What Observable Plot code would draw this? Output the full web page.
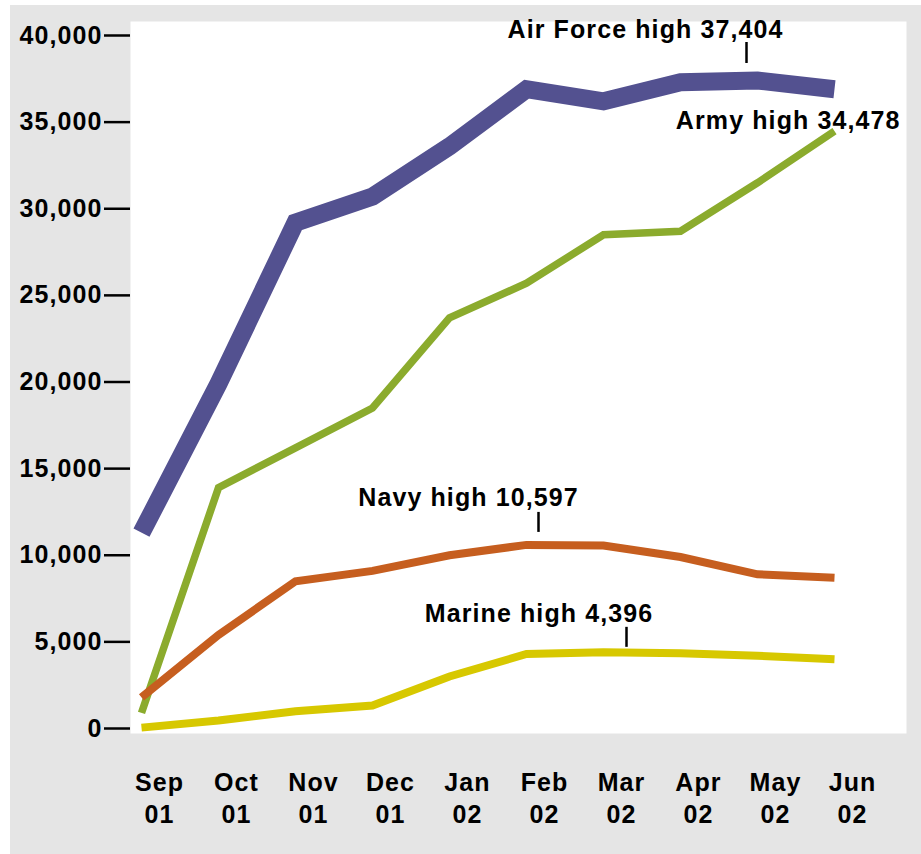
<!DOCTYPE html>
<html>
<head>
<meta charset="utf-8">
<script src="https://cdn.jsdelivr.net/npm/d3@7"></script>
<script src="https://cdn.jsdelivr.net/npm/@observablehq/plot@0.6"></script>
<style>
  html, body { margin: 0; padding: 0; background: #ffffff; }
  #chart { position: absolute; left: 10px; top: 5px; }
  #chart svg text { font-family: "Liberation Sans", Arial, Helvetica, sans-serif; font-weight: bold; letter-spacing: 1.1px; }
</style>
</head>
<body>
<div id="chart"></div>
<script>
// ---- data ----
const months = ["Sep 01","Oct 01","Nov 01","Dec 01","Jan 02","Feb 02","Mar 02","Apr 02","May 02","Jun 02"];
const monthLabels = ["Sep\n01","Oct\n01","Nov\n01","Dec\n01","Jan\n02","Feb\n02","Mar\n02","Apr\n02","May\n02","Jun\n02"];
const services = ["Air Force","Army","Navy","Marine"];
const airForce = [11300, 19900, 29200, 30700, 33600, 36900, 36200, 37300, 37404, 36900];
const army     = [900, 13900, 16200, 18500, 23700, 25700, 28500, 28700, 31500, 34478];
const navy     = [1800, 5400, 8500, 9100, 10000, 10597, 10560, 9900, 8900, 8700];
const marine   = [50, 460, 1000, 1330, 3000, 4300, 4396, 4350, 4200, 4000];
const yTicks = [0, 5000, 10000, 15000, 20000, 25000, 30000, 35000, 40000];
const highs = [
  {service: "Air Force", month: "May 02", value: 37404, text: "Air Force high 37,404"},
  {service: "Army",      month: "Jun 02", value: 34478, text: "Army high 34,478"},
  {service: "Navy",      month: "Feb 02", value: 10597, text: "Navy high 10,597"},
  {service: "Marine",    month: "Mar 02", value: 4396,  text: "Marine high 4,396"}
];

// ---- build table ----
const seriesValues = {"Air Force": airForce, "Army": army, "Navy": navy, "Marine": marine};
const rows = services.flatMap(s => months.map((m, i) => ({service: s, month: m, value: seriesValues[s][i]})));

const colors = {"Air Force": "#535190", "Army": "#8bab2d", "Navy": "#c65e1f", "Marine": "#d7c800"};
const widths = {"Air Force": 18, "Army": 7.5, "Navy": 8, "Marine": 8};

// pixel -> value units (y scale: 40000 over 693px)
const k = 40000 / 693;
const hi = s => highs.filter(d => d.service === s);

const lineMarks = services.map(s => Plot.line(rows.filter(d => d.service === s), {
  x: "month", y: "value", stroke: colors[s], strokeWidth: widths[s],
  strokeLinejoin: "miter", strokeLinecap: "butt", strokeMiterlimit: 4
}));

const chart = Plot.plot({
  width: 911,
  height: 849,
  marginLeft: 120,
  marginRight: 15,
  marginTop: 16,
  marginBottom: 121,
  style: {background: "#e5e5e5", overflow: "visible", color: "#000"},
  x: {type: "point", domain: months, range: [130, 825], padding: 0, axis: null},
  y: {domain: [0, 40000], range: [723, 30], axis: null},
  marks: [
    Plot.frame({fill: "#ffffff", stroke: null}),
    Plot.axisY({
      ticks: yTicks, tickSize: 26, tickPadding: 2, strokeWidth: 2.5,
      tickFormat: d3.format(","), fontSize: 25, anchor: "left", label: null
    }),
    Plot.text(months, {
      x: d => d, text: (d, i) => monthLabels[i], frameAnchor: "bottom",
      lineAnchor: "top", dy: 35, dx: 18, lineHeight: 1.28, fontSize: 25, fill: "#000"
    }),
    ...lineMarks,
    // annotations
    Plot.text(hi("Air Force"), {x: "month", y: "value", text: "text", dx: -112, dy: -50, fontSize: 25, fill: "#000"}),
    Plot.ruleX(hi("Air Force"), {x: "month", y1: d => d.value + 17 * k, y2: d => d.value + 38 * k, dx: -11, stroke: "#000", strokeWidth: 2.5}),
    Plot.text(hi("Army"), {x: "month", y: "value", text: "text", dx: 66, dy: -10.5, textAnchor: "end", fontSize: 25, fill: "#000"}),
    Plot.text(hi("Navy"), {x: "month", y: "value", text: "text", dx: -58, dy: -47, fontSize: 25, fill: "#000"}),
    Plot.ruleX(hi("Navy"), {x: "month", y1: d => d.value + 12.5 * k, y2: d => d.value + 32.5 * k, dx: 12, stroke: "#000", strokeWidth: 2.5}),
    Plot.text(hi("Marine"), {x: "month", y: "value", text: "text", dx: -64.5, dy: -38, fontSize: 25, fill: "#000"}),
    Plot.ruleX(hi("Marine"), {x: "month", y1: d => d.value + 5 * k, y2: d => d.value + 25 * k, dx: 23, stroke: "#000", strokeWidth: 2.5})
  ]
});
document.getElementById("chart").appendChild(chart);
</script>
</body>
</html>
